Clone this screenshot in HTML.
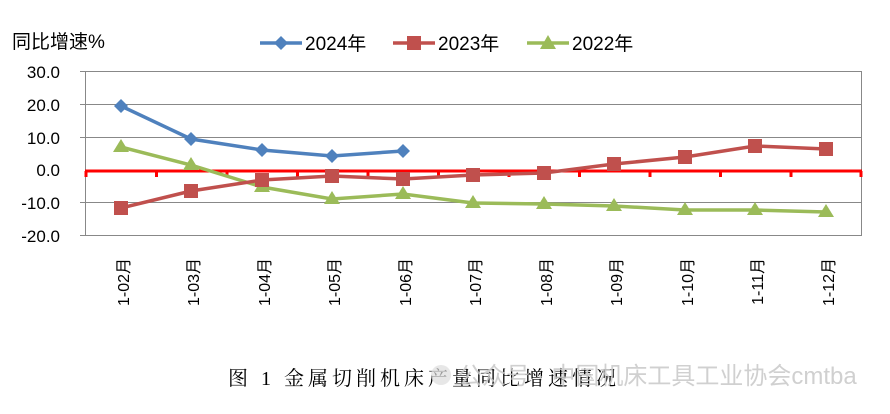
<!DOCTYPE html>
<html><head><meta charset="utf-8"><style>
body{margin:0;background:#fff;}
svg text{font-family:"Liberation Sans","Noto Sans CJK SC",sans-serif;}
</style></head><body>
<svg width="890" height="409" xmlns="http://www.w3.org/2000/svg">
<rect width="890" height="409" fill="#fff"/>
<text x="12" y="48" font-size="19" fill="#000" font-family="'Noto Sans CJK SC',sans-serif">同比增速%</text>
<g stroke="#888" stroke-width="1">
<line x1="80" y1="71.5" x2="862" y2="71.5"/>
<line x1="80" y1="104.5" x2="862" y2="104.5"/>
<line x1="80" y1="137.5" x2="862" y2="137.5"/>
<line x1="80" y1="202.5" x2="862" y2="202.5"/>
<line x1="80" y1="235.5" x2="862" y2="235.5"/>
<line x1="85.5" y1="71" x2="85.5" y2="235"/>
<line x1="861.5" y1="71" x2="861.5" y2="235"/>
</g>
<g font-size="17" fill="#000" text-anchor="end">
<text x="60" y="78">30.0</text><text x="60" y="111">20.0</text><text x="60" y="144">10.0</text>
<text x="60" y="176">0.0</text><text x="60" y="209">-10.0</text><text x="60" y="242">-20.0</text>
</g>
<line x1="85" y1="171" x2="862" y2="171" stroke="#f00" stroke-width="3"/>
<g stroke="#f00" stroke-width="3">
<line x1="86" y1="171" x2="86" y2="177"/><line x1="156.5" y1="171" x2="156.5" y2="177"/><line x1="227" y1="171" x2="227" y2="177"/><line x1="297.5" y1="171" x2="297.5" y2="177"/><line x1="368" y1="171" x2="368" y2="177"/><line x1="438.5" y1="171" x2="438.5" y2="177"/><line x1="509" y1="171" x2="509" y2="177"/><line x1="579.5" y1="171" x2="579.5" y2="177"/><line x1="650" y1="171" x2="650" y2="177"/><line x1="720.5" y1="171" x2="720.5" y2="177"/><line x1="791" y1="171" x2="791" y2="177"/><line x1="861" y1="171" x2="861" y2="177"/>
</g>
<polyline fill="none" stroke="#9bbb59" stroke-width="3.5" points="121,147 191,165 262,187 332,199 403,194 473,203 544,204 614,206 685,210 755,210 826,212"/>
<g fill="#9bbb59">
<polygon points="121,139 129,152 113,152"/><polygon points="191,157 199,170 183,170"/><polygon points="262,179 270,192 254,192"/><polygon points="332,191 340,204 324,204"/><polygon points="403,186 411,199 395,199"/><polygon points="473,195 481,208 465,208"/><polygon points="544,196 552,209 536,209"/><polygon points="614,198 622,211 606,211"/><polygon points="685,202 693,215 677,215"/><polygon points="755,202 763,215 747,215"/><polygon points="826,204 834,217 818,217"/>
</g>
<polyline fill="none" stroke="#c0504d" stroke-width="3.5" points="121,208 191,191 262,180 332,176 403,179 473,175 544,173 614,164 685,157 755,146 826,149"/>
<g fill="#c0504d">
<rect x="114" y="201" width="14" height="14"/><rect x="184" y="184" width="14" height="14"/><rect x="255" y="173" width="14" height="14"/><rect x="325" y="169" width="14" height="14"/><rect x="396" y="172" width="14" height="14"/><rect x="466" y="168" width="14" height="14"/><rect x="537" y="166" width="14" height="14"/><rect x="607" y="157" width="14" height="14"/><rect x="678" y="150" width="14" height="14"/><rect x="748" y="139" width="14" height="14"/><rect x="819" y="142" width="14" height="14"/>
</g>
<polyline fill="none" stroke="#4f81bd" stroke-width="3.5" points="121,106 191,139 262,150 332,156 403,151"/>
<g fill="#4f81bd">
<polygon points="121,99 128,106 121,113 114,106"/><polygon points="191,132 198,139 191,146 184,139"/><polygon points="262,143 269,150 262,157 255,150"/><polygon points="332,149 339,156 332,163 325,156"/><polygon points="403,144 410,151 403,158 396,151"/>
</g>
<line x1="260" y1="43" x2="302" y2="43" stroke="#4f81bd" stroke-width="3.5"/><polygon points="281,36 288,43 281,50 274,43" fill="#4f81bd"/>
<text x="305" y="50" font-size="19">2024年</text>
<line x1="393" y1="43" x2="435" y2="43" stroke="#c0504d" stroke-width="3.5"/><rect x="407" y="36" width="14" height="14" fill="#c0504d"/>
<text x="438" y="50" font-size="19">2023年</text>
<line x1="527" y1="43" x2="569" y2="43" stroke="#9bbb59" stroke-width="3.5"/><polygon points="548,35 556,49 540,49" fill="#9bbb59"/>
<text x="572" y="50" font-size="19">2022年</text>
<g font-size="16" fill="#000" text-anchor="end">
<text transform="translate(129,258) rotate(-90)">1-02月</text>
<text transform="translate(199,258) rotate(-90)">1-03月</text>
<text transform="translate(270,258) rotate(-90)">1-04月</text>
<text transform="translate(340,258) rotate(-90)">1-05月</text>
<text transform="translate(411,258) rotate(-90)">1-06月</text>
<text transform="translate(481,258) rotate(-90)">1-07月</text>
<text transform="translate(552,258) rotate(-90)">1-08月</text>
<text transform="translate(622,258) rotate(-90)">1-09月</text>
<text transform="translate(693,258) rotate(-90)">1-10月</text>
<text transform="translate(763,258) rotate(-90)">1-11月</text>
<text transform="translate(834,258) rotate(-90)">1-12月</text>
</g>
<text x="228" y="385" font-size="20" letter-spacing="4" fill="#000" style="font-family:'Liberation Serif','Noto Serif CJK SC',serif">图 1 金属切削机床产量同比增速情况</text>
<circle cx="441" cy="375" r="10" fill="#ddd" opacity="0.7"/>
<text x="458" y="384" font-size="24" fill="#c8c8c8" opacity="0.85">公众号 · 中国机床工具工业协会cmtba</text>
</svg>
</body></html>
